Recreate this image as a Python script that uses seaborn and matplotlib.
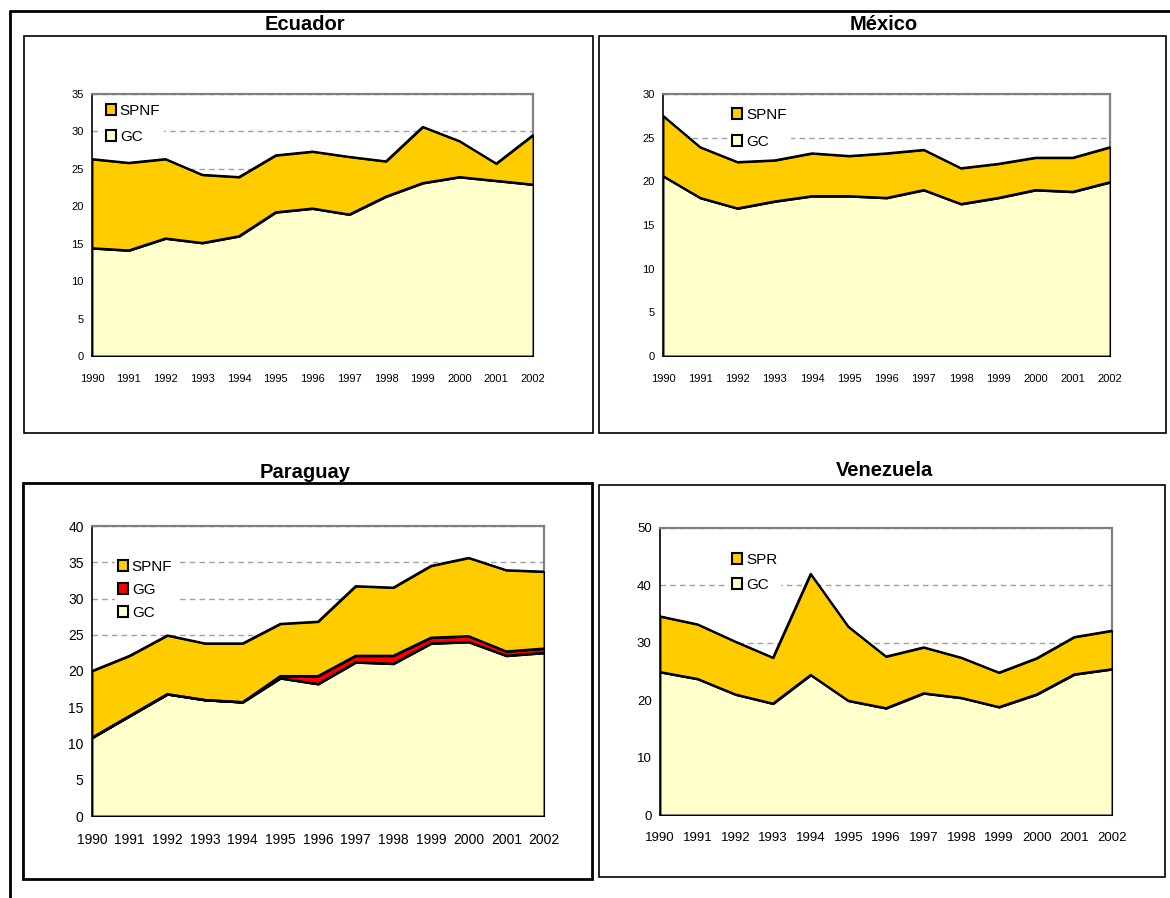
import numpy as np
import pandas as pd
import seaborn as sns
import matplotlib.pyplot as plt
from matplotlib.patches import Patch, Rectangle
from matplotlib.lines import Line2D

# data
years = [1990, 1991, 1992, 1993, 1994, 1995, 1996, 1997, 1998, 1999, 2000, 2001, 2002]

ecu_gc = [14.4, 14.1, 15.7, 15.1, 16.0, 19.2, 19.7, 18.9, 21.3, 23.1, 23.9, 23.4, 22.9]
ecu_spnf = [11.9, 11.7, 10.6, 9.1, 7.9, 7.6, 7.6, 7.7, 4.7, 7.5, 4.8, 2.3, 6.6]

mex_gc = [20.6, 18.1, 16.9, 17.7, 18.3, 18.3, 18.1, 19.0, 17.4, 18.1, 19.0, 18.8, 19.9]
mex_spnf = [6.9, 5.8, 5.3, 4.7, 4.9, 4.6, 5.1, 4.6, 4.1, 3.9, 3.7, 3.9, 4.0]

par_gc = [10.8, 13.8, 16.8, 16.0, 15.7, 19.0, 18.2, 21.2, 21.0, 23.8, 24.0, 22.1, 22.5]
par_gg = [0.0, 0.0, 0.0, 0.0, 0.0, 0.3, 1.1, 0.9, 1.1, 0.8, 0.8, 0.6, 0.6]
par_spnf = [9.2, 8.3, 8.1, 7.8, 8.1, 7.2, 7.5, 9.6, 9.4, 9.9, 10.8, 11.2, 10.6]

ven_gc = [24.9, 23.7, 21.0, 19.4, 24.4, 19.9, 18.6, 21.2, 20.4, 18.8, 21.0, 24.5, 25.4]
ven_spr = [9.7, 9.5, 9.2, 8.0, 17.6, 12.9, 9.0, 8.0, 7.0, 6.0, 6.3, 6.5, 6.7]

C_GC = "#FFFFCC"
C_SPNF = "#FFCC00"
C_GG = "#FF0000"

W, H = 1170, 898


def fig_rect(left, top, right, bottom):
    # pixel box -> figure fraction [x, y, w, h]
    return [left / W, 1 - bottom / H, (right - left) / W, (bottom - top) / H]


def draw_panel(ax, layers, ymax, ystep, tick_fs, xpad, legend_pos, legend_spacing):
    base = np.zeros(len(years))
    for name, vals, color in layers:
        top = base + np.array(vals)
        ax.fill_between(years, base, top, facecolor=color, edgecolor="black",
                        linewidth=1.4, zorder=3)
        df = pd.DataFrame({"year": years, "value": top})
        sns.lineplot(data=df, x="year", y="value", color="black", linewidth=1.6,
                     ax=ax, zorder=4)
        base = top

    ax.set_xlim(1990, 2002)
    ax.set_ylim(0, ymax)
    ax.set_xticks(years)
    ax.set_yticks(np.arange(0, ymax + 1, ystep))
    ax.set_xlabel("")
    ax.set_ylabel("")
    ax.tick_params(axis="both", direction="out", length=3, width=1, colors="black",
                   labelsize=tick_fs)
    ax.tick_params(axis="x", pad=xpad)
    ax.tick_params(axis="y", pad=3)

    ax.yaxis.grid(True, linestyle=(0, (4, 3)), color="#A0A0A0", linewidth=1)
    ax.xaxis.grid(False)
    ax.set_axisbelow(True)

    for side in ["top", "right"]:
        ax.spines[side].set_visible(True)
        ax.spines[side].set_color("#808080")
        ax.spines[side].set_linewidth(1.6)
    for side in ["left", "bottom"]:
        ax.spines[side].set_color("black")
        ax.spines[side].set_linewidth(1.2)

    handles = [Patch(facecolor=c, edgecolor="black", linewidth=1.5, label=n)
               for n, v, c in layers[::-1]]
    leg = ax.legend(handles=handles, loc="upper left", bbox_to_anchor=legend_pos,
                    borderaxespad=0, borderpad=0.2, fontsize=11, handlelength=0.65,
                    handleheight=0.7, handletextpad=0.25, labelspacing=legend_spacing,
                    frameon=True, fancybox=False, labelcolor="black")
    leg.get_frame().set_facecolor("white")
    leg.get_frame().set_edgecolor("white")
    leg.get_frame().set_alpha(1)
    leg.set_zorder(6)


def main():
    sns.set_style("white")
    plt.rcParams["font.family"] = ["Liberation Sans", "DejaVu Sans"]
    plt.rcParams["text.color"] = "black"
    plt.rcParams["xtick.color"] = "black"
    plt.rcParams["ytick.color"] = "black"
    plt.rcParams["axes.labelcolor"] = "black"

    fig = plt.figure(figsize=(W / 100, H / 100), dpi=100)

    # outer frame lines (top and left)
    fig.add_artist(Line2D([10 / W, 1.0], [1 - 11 / H, 1 - 11 / H], transform=fig.transFigure,
                          color="black", linewidth=2))
    fig.add_artist(Line2D([10 / W, 10 / W], [1 - 11 / H, 0.0], transform=fig.transFigure,
                          color="black", linewidth=2))

    # chart boxes
    boxes = [(24, 36, 593, 433, 1.2), (599, 36, 1166, 433, 1.2),
             (23, 483, 592, 879, 2.0), (599, 485, 1165, 877, 1.2)]
    for l, t, r, b, lw in boxes:
        x, y, w, h = fig_rect(l, t, r, b)
        fig.add_artist(Rectangle((x, y), w, h, transform=fig.transFigure, fill=False,
                                 edgecolor="black", linewidth=lw))

    # titles
    fig.text(305 / W, 1 - 25 / H, "Ecuador", ha="center", va="center",
             fontsize=14.5, fontweight="bold", color="black")
    fig.text(884 / W, 1 - 25 / H, "México", ha="center", va="center",
             fontsize=14.5, fontweight="bold", color="black")
    fig.text(305 / W, 1 - 472 / H, "Paraguay", ha="center", va="center",
             fontsize=14.5, fontweight="bold", color="black")
    fig.text(884 / W, 1 - 471 / H, "Venezuela", ha="center", va="center",
             fontsize=14.5, fontweight="bold", color="black")

    ax1 = fig.add_axes(fig_rect(92, 94, 533, 356))
    draw_panel(ax1, [("GC", ecu_gc, C_GC), ("SPNF", ecu_spnf, C_SPNF)],
               35, 5, 8, 10, (0.025, 0.973), 0.76)

    ax2 = fig.add_axes(fig_rect(663, 94, 1110, 356))
    draw_panel(ax2, [("GC", mex_gc, C_GC), ("SPNF", mex_spnf, C_SPNF)],
               30, 5, 8, 10, (0.148, 0.958), 0.83)

    ax3 = fig.add_axes(fig_rect(92, 526, 544, 816))
    draw_panel(ax3, [("GC", par_gc, C_GC), ("GG", par_gg, C_GG), ("SPNF", par_spnf, C_SPNF)],
               40, 5, 10, 9, (0.051, 0.893), 0.57)

    ax4 = fig.add_axes(fig_rect(660, 528, 1112, 815))
    draw_panel(ax4, [("GC", ven_gc, C_GC), ("SPR", ven_spr, C_SPNF)],
               50, 10, 9.5, 9, (0.153, 0.923), 0.7)

    fig.savefig("out.png", dpi=100)


if __name__ == "__main__":
    main()
